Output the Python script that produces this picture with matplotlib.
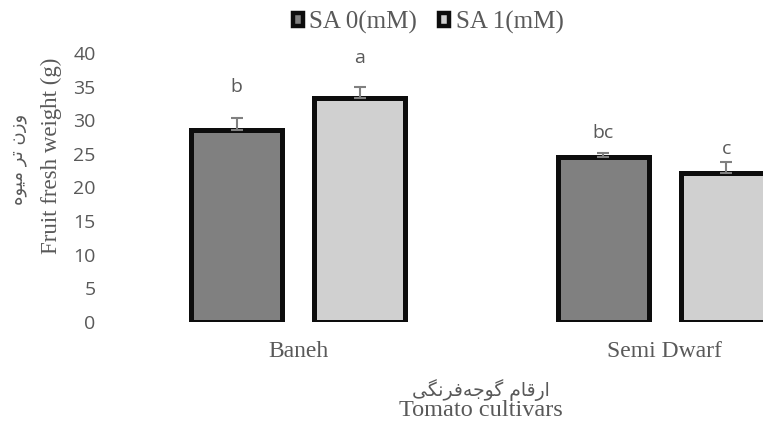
import matplotlib
matplotlib.use("Agg")
import matplotlib.pyplot as plt
import numpy as np
from matplotlib.patches import Patch

# data
cultivars = ["Baneh", "Semi Dwarf"]
series = ["SA 0(mM)", "SA 1(mM)"]
sa0 = [28.6, 24.5]
sa1 = [33.3, 22.2]
sa0_err = [1.8, 0.6]
sa1_err = [1.6, 1.6]
sa0_letters = ["b", "bc"]
sa1_letters = ["a", "c"]
# heights (in axis units) where the significance letters sit
sa0_letter_y = [34.9, 28.1]
sa1_letter_y = [39.3, 25.7]
yticks = [0, 5, 10, 15, 20, 25, 30, 35, 40]

# Persian labels, pre-shaped in visual order (matplotlib has no bidi/shaping)
ylabel_fa = "\uFEE9\uFEEE\uFEF4\uFEE3 \uFEAE\uFE97 \uFEE5\uFEAF\uFEED"
xlabel_fa = "\uFEF0\uFB95\uFEE7\uFEAE\uFED3\uFEEA\uFE9F\uFEEE\uFB94 \uFEE1\uFE8E\uFED7\uFEAD\uFE8D"

serif = ["Liberation Serif", "DejaVu Serif"]
sans = ["Open Sans", "DejaVu Sans"]
grey_txt = "#595959"

fig = plt.figure(figsize=(7.63, 4.25), dpi=100)
ax = fig.add_axes([115 / 763, 1 - 322 / 425, 733 / 763, 269 / 425])

x = np.arange(len(cultivars))
off = 0.168
w = 0.248
colors = ["#808080", "#d0d0d0"]

groups = [
    (sa0, sa0_err, sa0_letters, sa0_letter_y),
    (sa1, sa1_err, sa1_letters, sa1_letter_y),
]
for i, (vals, errs, letters, letter_y) in enumerate(groups):
    pos = x + (-off if i == 0 else off)
    ax.bar(pos, vals, width=w, color=colors[i], edgecolor="#0d0d0d",
           linewidth=3.6, zorder=2)
    ax.errorbar(pos, vals, yerr=[np.zeros(len(vals)), errs], fmt="none",
                ecolor="#808080", elinewidth=1.5, capsize=4.3, capthick=1.5,
                zorder=3)
    for p, ly, t in zip(pos, letter_y, letters):
        ax.text(p, ly, t, ha="center", va="center", fontsize=14,
                color=grey_txt, family=sans)

ax.set_xlim(-0.5, 1.5)
ax.set_ylim(0, 40)
ax.set_yticks(yticks)
ax.set_yticklabels([str(t) for t in yticks], fontsize=14, color=grey_txt,
                   family=sans)
ax.set_xticks(x)
ax.set_xticklabels(cultivars, fontsize=17, color=grey_txt, family=serif)
ax.tick_params(length=0)
ax.tick_params(axis="y", pad=14)
ax.tick_params(axis="x", pad=14)
for s in ax.spines.values():
    s.set_visible(False)

# axis titles
fig.text(51 / 763, 1 - 156 / 425, "Fruit fresh weight (g)", rotation=90,
         ha="center", va="center", fontsize=16.5, color=grey_txt, family=serif)
fig.text(18 / 763, 1 - 159 / 425, ylabel_fa, rotation=90, ha="center",
         va="center", fontsize=13, color=grey_txt, family=["DejaVu Sans"])
fig.text(481 / 763, 1 - 390 / 425, xlabel_fa, ha="center", va="center",
         fontsize=13.5, color=grey_txt, family=["DejaVu Sans"])
fig.text(481 / 763, 1 - 411 / 425, "Tomato cultivars", ha="center",
         va="center", fontsize=17.5, color=grey_txt, family=serif)

handles = [Patch(facecolor=c, edgecolor="#0d0d0d", linewidth=3.2) for c in colors]
fig.legend(handles, series, loc="center", bbox_to_anchor=(428 / 763, 1 - 22 / 425),
           ncol=2, frameon=False, handlelength=0.4, handleheight=0.4,
           handletextpad=0.25, columnspacing=0.9,
           prop={"family": serif, "size": 18}, labelcolor=grey_txt)

fig.savefig("out.png", dpi=100)
